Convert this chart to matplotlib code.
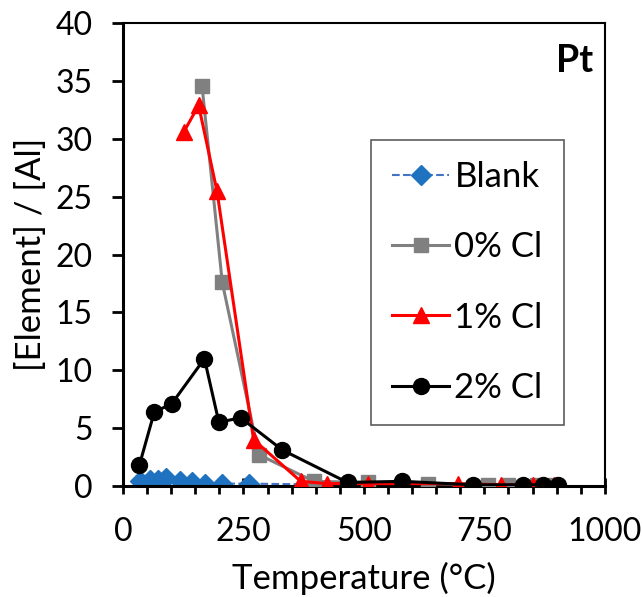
import numpy as np
import matplotlib
matplotlib.use("Agg")
import matplotlib.pyplot as plt
from matplotlib.ticker import MultipleLocator

plt.rcParams["font.family"] = ["Lato", "DejaVu Sans"]

# ---- data ----
blank_T = [35, 55, 72, 90, 118, 143, 170, 205, 262, 467, 581]
blank_y = [0.4, 0.5, 0.5, 0.7, 0.4, 0.3, 0.2, 0.2, 0.2, 0.1, 0.1]

cl0_T = [164, 206, 282, 396, 508, 632, 757, 800, 860, 895]
cl0_y = [34.6, 17.6, 2.7, 0.4, 0.3, 0.2, 0.1, 0.1, 0.1, 0.1]

cl1_T = [126, 157, 195, 271, 369, 424, 508, 695, 785, 850, 895]
cl1_y = [30.6, 32.9, 25.5, 4.0, 0.4, 0.2, 0.2, 0.2, 0.1, 0.1, 0.1]

cl2_T = [34, 65, 101, 169, 199, 244, 331, 466, 580, 726, 830, 872, 903]
cl2_y = [1.8, 6.4, 7.1, 11.0, 5.5, 5.9, 3.1, 0.3, 0.4, 0.1, 0.1, 0.1, 0.1]

fig = plt.figure(figsize=(6.42, 5.97), dpi=100)
ax = fig.add_axes([0.1916, 0.186, 0.7505, 0.775])

ax.plot(blank_T, blank_y, ls="--", lw=1.5, color="#4472C4", marker="D",
        ms=10, mfc="#1F72BF", mec="#1F72BF", label="Blank", zorder=2)
ax.plot(cl0_T, cl0_y, "-", lw=2.2, color="#808080", marker="s", ms=10.5,
        label="0% Cl", zorder=3)
ax.plot(cl1_T, cl1_y, "-", lw=2.2, color="#FF0000", marker="^", ms=12,
        label="1% Cl", zorder=4)
ax.plot(cl2_T, cl2_y, "-", lw=2.2, color="black", marker="o", ms=11.5,
        label="2% Cl", zorder=5)

ax.set_xlim(0, 1000)
ax.set_ylim(0, 40)
ax.xaxis.set_major_locator(MultipleLocator(250))
ax.xaxis.set_minor_locator(MultipleLocator(50))
ax.yaxis.set_major_locator(MultipleLocator(5))
ax.tick_params(axis="x", which="major", direction="inout", length=12, width=2,
               labelsize=23, pad=16)
ax.tick_params(axis="x", which="minor", direction="out", length=5.5, width=2)
ax.tick_params(axis="y", which="major", direction="out", length=8, width=2,
               labelsize=23, pad=14)
ax.tick_params(top=False, right=False)

for s in ("left", "bottom"):
    ax.spines[s].set_linewidth(2.2)
for s in ("top", "right"):
    ax.spines[s].set_linewidth(1.5)

ax.set_xlabel("Temperature (°C)", fontsize=25, labelpad=11)
ax.set_ylabel("[Element] / [Al]", fontsize=25, labelpad=6)

ax.text(0.975, 0.955, "Pt", transform=ax.transAxes, ha="right", va="top",
        fontsize=27, fontweight="bold")

leg = ax.legend(loc="upper left", bbox_to_anchor=(0.515, 0.747), fontsize=25,
                frameon=True, fancybox=False, edgecolor="#333333",
                labelspacing=1.1, handlelength=1.65, handletextpad=0.15,
                borderpad=0.6, borderaxespad=0)
leg.get_frame().set_linewidth(1.2)

fig.savefig("out.png", dpi=100)
